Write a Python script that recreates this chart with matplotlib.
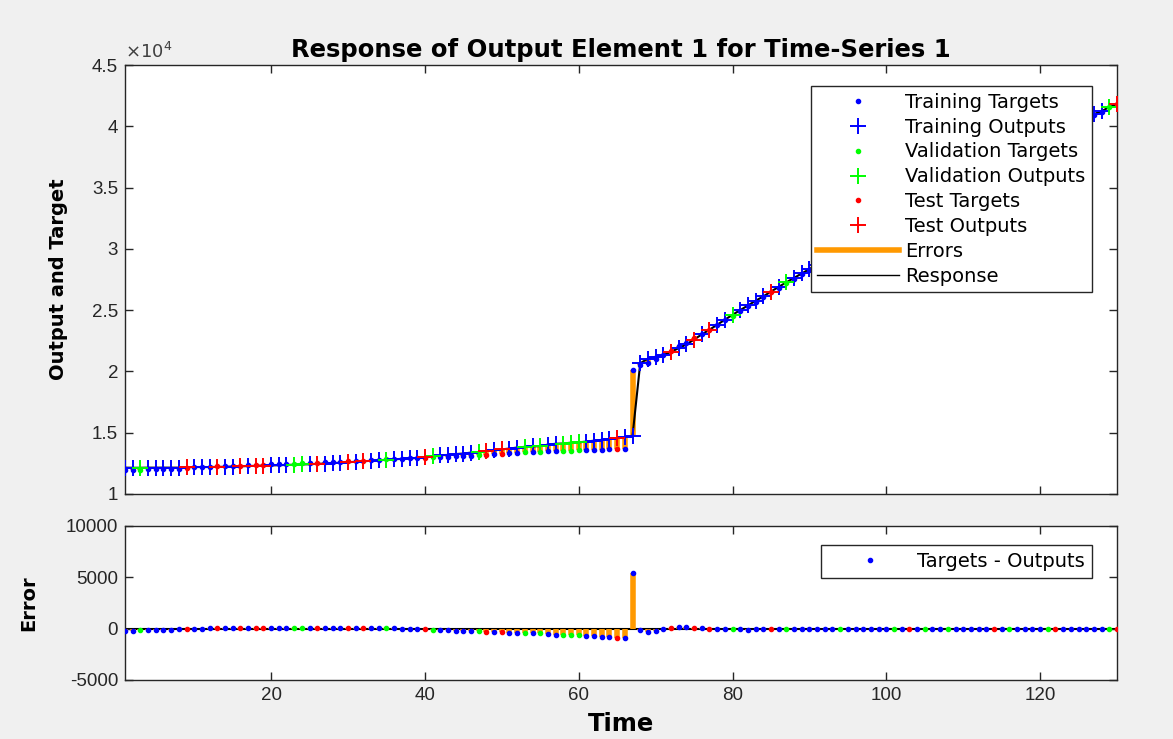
import numpy as np
import matplotlib
matplotlib.use("Agg")
import matplotlib.pyplot as plt
from matplotlib.lines import Line2D

plt.rcParams['font.family'] = ['Liberation Sans', 'DejaVu Sans']
plt.rcParams['axes.unicode_minus'] = False

# ---------------- data ----------------
time = list(range(1, 131))

# T = training, V = validation, S = test
split = ("T T V T T T T T S T "
         "T T S T T S T S S T "
         "T T V V T S T T T S "
         "T S T T V T T T T S "
         "V T T T T T V S T S "
         "T T V T V T T V V V "
         "T T T T S T T T T T "
         "T S T T S T S T T V "
         "T T T T S T V T T T "
         "T T T V T T T T T T "
         "V T S T V T T V T T "
         "T T T S T V T T T T "
         "V S T T T T T T V S").split()

targets = [11950, 11960, 11980, 12000, 12020, 12040, 12060, 12080, 12150, 12180,
           12200, 12220, 12250, 12270, 12290, 12320, 12340, 12370, 12390, 12410,
           12430, 12460, 12480, 12500, 12530, 12560, 12580, 12610, 12640, 12670,
           12700, 12730, 12760, 12790, 12820, 12850, 12880, 12910, 12920, 12950,
           12980, 13010, 13040, 13060, 13100, 13130, 13170, 13210, 13250, 13290,
           13330, 13370, 13400, 13430, 13460, 13480, 13500, 13520, 13540, 13560,
           13580, 13600, 13620, 13640, 13660, 13680, 20150, 20560, 20700, 21000,
           21300, 21700, 22050, 22350, 22700, 23050, 23400, 23780, 24160, 24540,
           24920, 25300, 25680, 26060, 26440, 26820, 27200, 27570, 27940, 28300,
           28650, 29000, 29350, 29700, 30050, 30400, 30750, 31100, 31450, 31800,
           32150, 32500, 32850, 33200, 33550, 33900, 34250, 34600, 34950, 35300,
           35650, 36000, 36350, 36700, 37050, 37400, 37750, 38100, 38450, 38800,
           39150, 39500, 39850, 40200, 40450, 40700, 40950, 41200, 41550, 41800]

errors = [-200, -180, -160, -150, -130, -110, -90, -70, -40, -20,
          0, 20, 40, 50, 50, 60, 60, 70, 70, 80,
          80, 90, 90, 90, 100, 100, 100, 90, 90, 80,
          70, 60, 50, 40, 30, 20, 10, 0, -20, -50,
          -100, -150, -150, -200, -200, -250, -250, -300, -300, -350,
          -380, -420, -450, -450, -450, -550, -600, -600, -650, -650,
          -700, -750, -800, -850, -900, -950, 5400, -100, -350, -200,
          -30, 100, 150, 150, 100, 30, 0, -30, -60, -80,
          -80, -90, -80, -60, -70, -80, -70, -60, -50, -60,
          -60, -70, -70, -80, -60, -70, -80, -80, -60, -70,
          -60, -60, -70, -60, -70, -80, -70, -60, -70, -70,
          -80, -70, -60, -60, -70, -80, -60, -50, -60, -70,
          -60, -60, -50, -60, -50, -60, -40, -30, -20, 0]

top_yticks = [10000, 15000, 20000, 25000, 30000, 35000, 40000, 45000]
bot_yticks = [-5000, 0, 5000, 10000]
xticks = [20, 40, 60, 80, 100, 120]

# ---------------- derived ----------------
t = np.array(time)
tg = np.array(targets, dtype=float)
er = np.array(errors, dtype=float)
out = tg - er
sp = np.array(split)

colors = {'T': '#0000ff', 'V': '#00ff00', 'S': '#ff0000'}
names = {'T': 'Training', 'V': 'Validation', 'S': 'Test'}
orange = '#ff9900'
spine_c = '#262626'
wide = ['DejaVu Sans']

W, H = 1173, 739
fig = plt.figure(figsize=(W / 100, H / 100), dpi=100, facecolor='#f0f0f0')

ax1 = fig.add_axes([125 / W, 1 - 494 / H, (1117 - 125) / W, (494 - 65) / H])
ax2 = fig.add_axes([125 / W, 1 - 680 / H, (1117 - 125) / W, (680 - 526) / H])

# ---------------- top panel ----------------
ax1.vlines(t, tg, out, color=orange, lw=4, zorder=2)
ax1.plot(t, out, color='black', lw=1.5, zorder=3)
for k in ['T', 'V', 'S']:
    m = sp == k
    ax1.plot(t[m], tg[m], ls='none', marker='.', ms=6, color=colors[k], zorder=4)
    ax1.plot(t[m], out[m], ls='none', marker='+', ms=11, mew=1.4, color=colors[k], zorder=5)

ax1.set_xlim(1, 130)
ax1.set_ylim(10000, 45000)
ax1.set_yticks(top_yticks)
ax1.set_yticklabels(['%g' % (v / 1e4) for v in top_yticks])
ax1.set_xticks(xticks)
ax1.set_xticklabels([])
ax1.text(0.0, 1.008, r'$\times 10^4$', transform=ax1.transAxes, fontsize=13,
         color='#404040', ha='left', va='bottom')
ax1.set_title('Response of Output Element 1 for Time-Series 1', fontsize=17.5,
              fontweight='bold', family=wide, pad=6)
ax1.set_ylabel('Output and Target', fontsize=14, fontweight='bold', family=wide)
ax1.yaxis.set_label_coords(-0.057, 0.5)

handles = []
for k in ['T', 'V', 'S']:
    handles.append(Line2D([], [], ls='none', marker='.', ms=6, color=colors[k],
                          label=names[k] + ' Targets'))
    handles.append(Line2D([], [], ls='none', marker='+', ms=11, mew=1.4, color=colors[k],
                          label=names[k] + ' Outputs'))
handles.append(Line2D([], [], color=orange, lw=4, label='Errors'))
handles.append(Line2D([], [], color='black', lw=1, label='Response'))
leg1 = ax1.legend(handles=handles, loc='upper right',
                  bbox_to_anchor=((1092 - 125) / 992, (494 - 86) / 429),
                  borderaxespad=0, prop={'family': wide, 'size': 14},
                  handlelength=4.2, handletextpad=0.3,
                  labelspacing=0.3, fancybox=False, framealpha=1, edgecolor=spine_c,
                  borderpad=0.35)
leg1.get_frame().set_linewidth(1.0)

# ---------------- bottom panel ----------------
ax2.axhline(0, color='black', lw=1.5, zorder=1)
ax2.vlines(t, 0, er, color=orange, lw=4, zorder=2)
for k in ['T', 'V', 'S']:
    m = sp == k
    ax2.plot(t[m], er[m], ls='none', marker='.', ms=6, color=colors[k], zorder=4)
ax2.set_xlim(1, 130)
ax2.set_ylim(-5000, 10000)
ax2.set_yticks(bot_yticks)
ax2.set_xticks(xticks)
ax2.set_ylabel('Error', fontsize=14, fontweight='bold', family=wide)
ax2.yaxis.set_label_coords(-0.0877, 0.5)
ax2.set_xlabel('Time', fontsize=17.5, fontweight='bold', family=wide)
ax2.xaxis.set_label_coords(0.5, (680 - 712) / 154)

h2 = [Line2D([], [], ls='none', marker='.', ms=6, color='#0000ff', label='Targets - Outputs')]
leg2 = ax2.legend(handles=h2, loc='upper right',
                  bbox_to_anchor=((1092 - 125) / 992, (680 - 545) / 154),
                  borderaxespad=0, prop={'family': wide, 'size': 14},
                  handlelength=4.3, handletextpad=0.3,
                  fancybox=False, framealpha=1, edgecolor=spine_c, borderpad=0.35)
leg2.get_frame().set_linewidth(1.0)

for ax in (ax1, ax2):
    ax.set_facecolor('white')
    ax.tick_params(direction='in', top=True, right=True, length=6, width=1,
                   labelsize=13.5, colors=spine_c, labelcolor='#262626', pad=5)
    for s in ax.spines.values():
        s.set_color(spine_c)
        s.set_linewidth(1.0)

fig.savefig('out.png', dpi=100, facecolor=fig.get_facecolor())
